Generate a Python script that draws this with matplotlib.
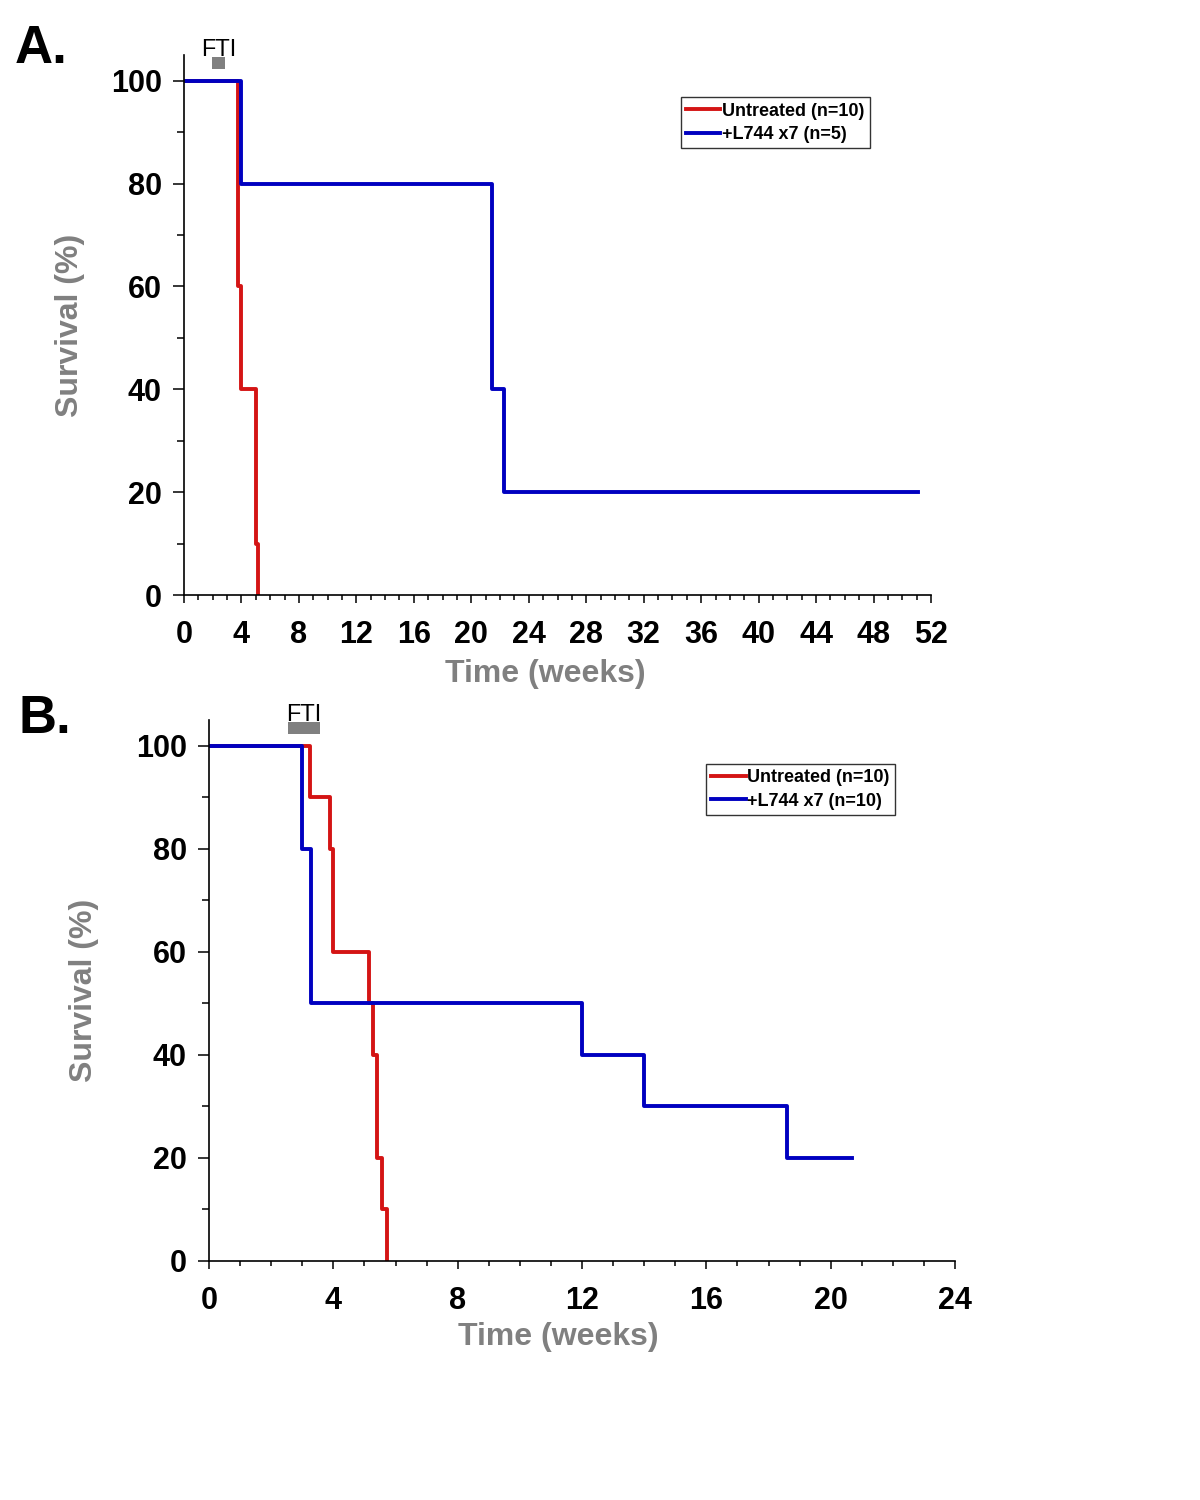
import matplotlib
matplotlib.use('Agg')
import matplotlib.pyplot as plt
import matplotlib.ticker as mticker
from matplotlib.patches import Rectangle

plt.rcParams['font.family'] = ['Liberation Sans', 'DejaVu Sans']

# panel A data (weeks, % survival)
a_untr_t = [0, 3.75, 4.0, 5.0, 5.12]
a_untr_s = [100, 60, 40, 10, 0]
a_l744_t = [0, 3.97, 21.45, 22.3, 51.1]
a_l744_s = [100, 80, 40, 20, 20]
a_labels = ['Untreated (n=10)', '+L744 x7 (n=5)']
a_fti = [1.95, 2.85]
a_xticks = list(range(0, 53, 4))

# panel B data
b_untr_t = [0, 3.25, 3.9, 4.0, 5.15, 5.28, 5.4, 5.57, 5.73]
b_untr_s = [100, 90, 80, 60, 50, 40, 20, 10, 0]
b_l744_t = [0, 3.0, 3.28, 12.0, 14.0, 18.6, 20.7]
b_l744_s = [100, 80, 50, 40, 30, 20, 20]
b_labels = ['Untreated (n=10)', '+L744 x7 (n=10)']
b_fti = [2.55, 3.57]
b_xticks = list(range(0, 25, 4))

red = '#d41414'
blue = '#0000c0'
grey = '#808080'


def panel(ax, t1, s1, t2, s2, labels, fti, xticks, xmax, ylab_x, xlab_x, xlab_y, leg_xy):
    ax.step(t1, s1, where='post', color=red, lw=2.8, label=labels[0])
    ax.step(t2, s2, where='post', color=blue, lw=2.8, label=labels[1])

    ax.set_xlim(0, xmax)
    ax.set_ylim(0, 105)
    ax.set_xticks(xticks)
    ax.set_yticks([0, 20, 40, 60, 80, 100])
    ax.xaxis.set_minor_locator(mticker.MultipleLocator(1))
    ax.yaxis.set_minor_locator(mticker.MultipleLocator(10))

    ax.spines['right'].set_visible(False)
    ax.spines['top'].set_visible(False)
    ax.spines['left'].set_linewidth(1.2)
    ax.spines['bottom'].set_linewidth(1.2)

    ax.tick_params(axis='x', which='major', length=6, width=1.1, pad=12, labelsize=22)
    ax.tick_params(axis='x', which='minor', length=3.6, width=1.1)
    ax.tick_params(axis='y', which='major', length=8, width=1.1, pad=8, labelsize=22)
    ax.tick_params(axis='y', which='minor', length=5, width=1.1)
    for lab in ax.get_xticklabels() + ax.get_yticklabels():
        lab.set_fontweight('bold')

    ax.set_ylabel('Survival (%)', fontsize=23, fontweight='bold', color=grey)
    ax.yaxis.set_label_coords(ylab_x, 0.5)
    ax.set_xlabel('Time (weeks)', fontsize=23, fontweight='bold', color=grey)
    ax.xaxis.set_label_coords(xlab_x, xlab_y)

    # FTI treatment window
    ax.add_patch(Rectangle((fti[0], 102.3), fti[1] - fti[0], 2.3, color=grey, clip_on=False, lw=0))
    ax.text((fti[0] + fti[1]) / 2, 104.8, 'FTI', ha='center', va='baseline', fontsize=17, clip_on=False)

    leg = ax.legend(loc='upper left', bbox_to_anchor=leg_xy, frameon=True, fancybox=False,
                    handlelength=1.9, handletextpad=0.1, borderpad=0.3, labelspacing=0.35,
                    borderaxespad=0, prop={'weight': 'bold', 'size': 13})
    leg.get_frame().set_edgecolor('black')
    leg.get_frame().set_linewidth(1.0)


fig = plt.figure(figsize=(12, 15), dpi=100)
ax1 = fig.add_axes([184 / 1200, 1 - 595 / 1500, 747 / 1200, 540 / 1500])
ax2 = fig.add_axes([209 / 1200, 1 - 1261 / 1500, 746 / 1200, 541 / 1500])

panel(ax1, a_untr_t, a_untr_s, a_l744_t, a_l744_s, a_labels, a_fti, a_xticks, 52,
      -0.132, 0.484, -0.118, (0.665, 0.922))
panel(ax2, b_untr_t, b_untr_s, b_l744_t, b_l744_s, b_labels, b_fti, b_xticks, 24,
      -0.148, 0.468, -0.112, (0.666, 0.919))

fig.text(15 / 1200, 1 - 63 / 1500, 'A.', fontsize=38, fontweight='bold', va='baseline')
fig.text(18 / 1200, 1 - 733 / 1500, 'B.', fontsize=38, fontweight='bold', va='baseline')

fig.savefig('out.png', dpi=100)
